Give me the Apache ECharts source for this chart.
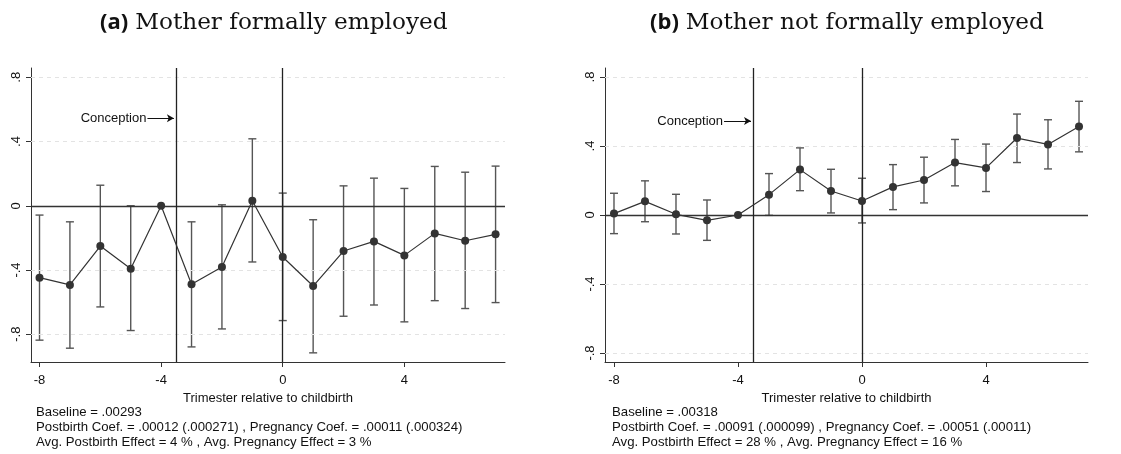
<!DOCTYPE html>
<html><head><meta charset="utf-8">
<script src="https://cdn.jsdelivr.net/npm/echarts@6/dist/echarts.min.js"></script>
<style>html,body{margin:0;padding:0;background:#fff}#c{width:1121px;height:454px}</style>
</head><body><div id="c"></div>
<script>
// Trimester relative to childbirth
const trimesters = [-8,-7,-6,-5,-4,-3,-2,-1,0,1,2,3,4,5,6,7];
// Panel (a): Mother formally employed
const coefA  = [-0.448,-0.493,-0.251,-0.392,0,-0.489,-0.381,0.031,-0.319,-0.500,-0.282,-0.222,-0.309,-0.172,-0.218,-0.178];
const upperA = [-0.058,-0.100,0.128,0.000,null,-0.100,0.006,0.417,0.079,-0.087,0.124,0.172,0.108,0.245,0.209,0.247];
const lowerA = [-0.837,-0.887,-0.630,-0.777,null,-0.879,-0.767,-0.350,-0.715,-0.916,-0.688,-0.618,-0.723,-0.591,-0.640,-0.603];
// Panel (b): Mother not formally employed
const coefB  = [0.008,0.079,0.004,-0.031,0,0.118,0.263,0.139,0.081,0.163,0.203,0.304,0.273,0.446,0.409,0.513];
const upperB = [0.126,0.198,0.120,0.087,null,0.240,0.389,0.265,0.213,0.292,0.335,0.438,0.411,0.585,0.552,0.659];
const lowerB = [-0.108,-0.039,-0.110,-0.147,null,-0.002,0.141,0.012,-0.046,0.031,0.070,0.169,0.136,0.304,0.267,0.366];
const xTicks = [-8,-4,0,4];
const yTicks = [-0.8,-0.4,0,0.4,0.8];
const gridVals = [-0.8,-0.4,0.4,0.8];
const conceptionX = -3.5;
const birthX = 0;
const titles = ['Mother formally employed','Mother not formally employed'];
const notesA = ['Baseline = .00293','Postbirth Coef. = .00012 (.000271) , Pregnancy Coef. = .00011 (.000324)','Avg. Postbirth Effect = 4 % , Avg. Pregnancy Effect = 3 %'];
const notesB = ['Baseline = .00318','Postbirth Coef. = .00091 (.000099) , Pregnancy Coef. = .00051 (.00011)','Avg. Postbirth Effect = 28 % , Avg. Pregnancy Effect = 16 %'];

const chart = echarts.init(document.getElementById('c'), null, {renderer:'canvas'});
const SANS = 'Arial, "Liberation Sans", sans-serif';
function fmt(v){ if (Math.abs(v)<1e-9) return '0'; let s = String(+v.toFixed(2)); return s.replace('0.', '.'); }

const grids = [
  {left:31, top:68, width:474, height:294},
  {left:605, top:68, width:483, height:294}
];
const yRange = [[-0.973,0.858],[-0.852,0.852]];
const xRange = [[-8.28,7.31],[-8.29,7.29]];

function xAxis(i){
  return {type:'value', gridIndex:i, min:xRange[i][0], max:xRange[i][1],
    name:'Trimester relative to childbirth', nameLocation:'middle', nameGap:22,
    nameTextStyle:{fontFamily:SANS, fontSize:13, color:'#111'},
    axisLine:{show:true, onZero:false, lineStyle:{color:'#333', width:1}},
    axisTick:{show:true, length:5, customValues:xTicks, lineStyle:{color:'#333'}},
    axisLabel:{customValues:xTicks, fontFamily:SANS, fontSize:13, color:'#111', margin:12, formatter:v=>String(v)},
    splitLine:{show:false}};
}
function yAxis(i){
  return {type:'value', gridIndex:i, min:yRange[i][0], max:yRange[i][1],
    axisLine:{show:true, onZero:false, lineStyle:{color:'#333', width:1}},
    axisTick:{show:true, length:5, customValues:yTicks, lineStyle:{color:'#333'}},
    axisLabel:{customValues:yTicks, rotate:90, fontFamily:SANS, fontSize:13, color:'#111', margin:8, formatter:fmt},
    splitLine:{show:false}};
}
function errSeries(i, lo, hi){
  const data = [];
  trimesters.forEach((t,k)=>{ if (lo[k]!==null) data.push([t, lo[k], hi[k]]); });
  return {type:'custom', xAxisIndex:i, yAxisIndex:i, z:3, data,
    renderItem:(params, api)=>{
      const p1 = api.coord([api.value(0), api.value(1)]);
      const p2 = api.coord([api.value(0), api.value(2)]);
      const w = 4;
      const st = {stroke:'#555', lineWidth:1.4};
      return {type:'group', children:[
        {type:'line', shape:{x1:p1[0],y1:p1[1],x2:p2[0],y2:p2[1]}, style:st},
        {type:'line', shape:{x1:p1[0]-w,y1:p1[1],x2:p1[0]+w,y2:p1[1]}, style:st},
        {type:'line', shape:{x1:p2[0]-w,y1:p2[1],x2:p2[0]+w,y2:p2[1]}, style:st}
      ]};
    }};
}
function refSeries(i){
  const ml = gridVals.map(v=>({yAxis:v, lineStyle:{color:'#e3e3e3', type:[4,4], width:1}}));
  ml.push({yAxis:0, lineStyle:{color:'#333', type:'solid', width:1.4}});
  ml.push({xAxis:conceptionX, lineStyle:{color:'#222', type:'solid', width:1.3}});
  ml.push({xAxis:birthX, lineStyle:{color:'#222', type:'solid', width:1.3}});
  return {type:'line', xAxisIndex:i, yAxisIndex:i, data:[], z:1,
    markLine:{silent:true, symbol:'none', label:{show:false}, animation:false, data:ml}};
}
function arrowSeries(i){
  return {type:'line', xAxisIndex:i, yAxisIndex:i, data:[], z:4,
    markLine:{silent:true, animation:false, symbol:['none','arrow'], symbolSize:[6,7],
      label:{show:true, position:'start', formatter:'Conception', fontFamily:SANS, fontSize:13, color:'#111', distance:1},
      lineStyle:{color:'#111', type:'solid', width:1},
      data:[[{coord:[-4.45,0.545]},{coord:[-3.58,0.545]}]]}};
}
function pointSeries(i, vals){
  return {type:'line', xAxisIndex:i, yAxisIndex:i, z:5,
    data: trimesters.map((t,k)=>[t, vals[k]]),
    symbol:'circle', symbolSize:8, showSymbol:true,
    itemStyle:{color:'#333'}, lineStyle:{color:'#333', width:1.2}};
}
const titleRich = {
  b:{fontFamily:'"Open Sans", "DejaVu Sans", sans-serif', fontWeight:'bold', fontSize:22, color:'#111', padding:[0,7,0,0]},
  s:{fontFamily:'"DejaVu Serif", serif', fontWeight:'normal', fontSize:23.2, color:'#111'}
};
const option = {
  animation:false,
  backgroundColor:'#fff',
  title:[
    {text:'{b|(a)}{s|'+titles[0]+'}', left:95, top:6, textStyle:{fontWeight:'normal', rich:titleRich}},
    {text:'{b|(b)}{s|'+titles[1]+'}', left:645, top:6, textStyle:{fontWeight:'normal', rich:titleRich}},
    {text:notesA.join('\n'), left:31, top:400, textStyle:{fontFamily:SANS, fontSize:13.2, fontWeight:'normal', color:'#111', lineHeight:15}},
    {text:notesB.join('\n'), left:607, top:400, textStyle:{fontFamily:SANS, fontSize:13.2, fontWeight:'normal', color:'#111', lineHeight:15}}
  ],
  grid: grids,
  xAxis:[xAxis(0), xAxis(1)],
  yAxis:[yAxis(0), yAxis(1)],
  series:[
    refSeries(0), refSeries(1),
    arrowSeries(0), arrowSeries(1),
    errSeries(0, lowerA, upperA), errSeries(1, lowerB, upperB),
    pointSeries(0, coefA), pointSeries(1, coefB)
  ]
};
chart.setOption(option);
</script></body></html>
